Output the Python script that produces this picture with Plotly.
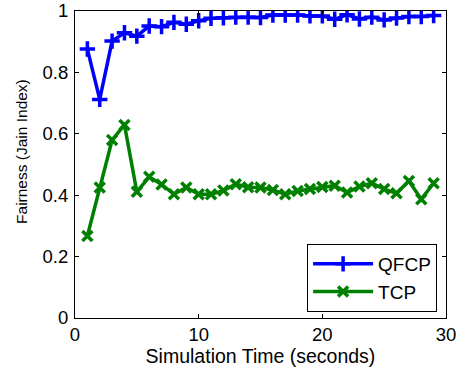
import plotly.graph_objects as go

time_s = list(range(1, 30))
qfcp = [0.876, 0.712, 0.902, 0.929, 0.918, 0.951, 0.949, 0.963, 0.957, 0.968,
        0.976, 0.978, 0.980, 0.980, 0.979, 0.987, 0.987, 0.987, 0.984, 0.984,
        0.973, 0.988, 0.974, 0.980, 0.971, 0.977, 0.982, 0.982, 0.985]
tcp = [0.267, 0.425, 0.580, 0.629, 0.411, 0.460, 0.435, 0.403, 0.425, 0.403,
       0.403, 0.415, 0.436, 0.426, 0.425, 0.417, 0.403, 0.414, 0.420, 0.427,
       0.431, 0.409, 0.428, 0.439, 0.420, 0.406, 0.446, 0.387, 0.439]
x_ticks = [0, 10, 20, 30]
y_ticks = [0, 0.2, 0.4, 0.6, 0.8, 1]
y_labels = ["0", "0.2", "0.4", "0.6", "0.8", "1"]

FONT = "Liberation Sans, Arial, Helvetica, sans-serif"

fig = go.Figure()
fig.add_trace(go.Scatter(
    x=time_s, y=qfcp, name="QFCP", mode="lines+markers",
    line=dict(color="#0000FF", width=3.5),
    marker=dict(symbol="cross-thin-open", size=11, color="#0000FF",
                line=dict(color="#0000FF", width=3.5)),
))
fig.add_trace(go.Scatter(
    x=time_s, y=tcp, name="TCP", mode="lines+markers",
    line=dict(color="#008000", width=3.5),
    marker=dict(symbol="x-thin-open", size=10, color="#008000",
                line=dict(color="#008000", width=3.5)),
))

axis_common = dict(
    showline=True, linecolor="black", linewidth=1, mirror="ticks",
    ticks="inside", ticklen=4, tickcolor="black", showgrid=False, zeroline=False,
    tickfont=dict(family=FONT, size=18.5, color="black"),
)
fig.update_xaxes(range=[0, 30], tickvals=x_ticks, ticktext=[str(v) for v in x_ticks],
                 title=dict(text="Simulation Time (seconds)", standoff=2,
                            font=dict(family=FONT, size=19.5, color="black")),
                 **axis_common)
fig.update_yaxes(range=[0, 1], tickvals=y_ticks, ticktext=y_labels, ticklabelstandoff=2,
                 **axis_common)
fig.add_annotation(text="Fairness (Jain Index)", textangle=-90,
                   xref="paper", yref="paper", x=-0.143, y=0.544,
                   xanchor="center", yanchor="middle", showarrow=False,
                   font=dict(family=FONT, size=15.5, color="black"))
fig.update_layout(
    width=459, height=373,
    margin=dict(l=75, r=13, t=11, b=55, autoexpand=False),
    plot_bgcolor="white", paper_bgcolor="white",
    legend=dict(x=0.976, y=0.0195, xanchor="right", yanchor="bottom",
                bordercolor="black", borderwidth=1, bgcolor="white",
                font=dict(family=FONT, size=19, color="black"),
                tracegroupgap=0, itemwidth=60),
    showlegend=True,
)
fig.write_html("out.html")
